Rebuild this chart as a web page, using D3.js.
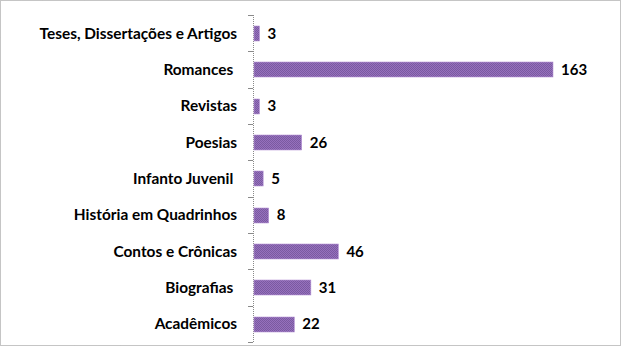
<!DOCTYPE html>
<html>
<head>
<meta charset="utf-8">
<script src="https://cdn.jsdelivr.net/npm/d3@7"></script>
<style>
  body { margin: 0; background: #fff; }
  text { font-family: Lato, "Open Sans", sans-serif; font-weight: bold; fill: #000; white-space: pre; }
</style>
</head>
<body>
<script>
const _svg_width = 621;
const _svg_height = 346;
const _axis_x = 253;
const _top = 15;
const _bottom = 342;

const categories = ['Teses, Dissertações e Artigos', 'Romances ', 'Revistas', 'Poesias', 'Infanto Juvenil ',
    'História em Quadrinhos', 'Contos e Crônicas', 'Biografias ', 'Acadêmicos'];
const values = [3, 163, 3, 26, 5, 8, 46, 31, 22];

const svg = d3.select('body')
    .append('svg')
    .attr('width', _svg_width)
    .attr('height', _svg_height);

// checker texture for the bars
const pat = svg.append('defs').append('pattern')
    .attr('id', 'purple')
    .attr('patternUnits', 'userSpaceOnUse')
    .attr('width', 2)
    .attr('height', 2);
pat.append('rect').attr('width', 2).attr('height', 2).attr('fill', '#9670bd');
pat.append('rect').attr('width', 1).attr('height', 1).attr('fill', '#7a5aa0');
pat.append('rect').attr('x', 1).attr('y', 1).attr('width', 1).attr('height', 1).attr('fill', '#7a5aa0');

// outer dotted frame
svg.append('rect')
    .attr('x', 0.5).attr('y', 0.5)
    .attr('width', _svg_width - 1).attr('height', _svg_height - 1)
    .attr('fill', 'none')
    .attr('stroke', '#8a8a8a')
    .attr('stroke-dasharray', '1,1');

const x = d3.scaleLinear().domain([0, 180]).range([_axis_x, _axis_x + 180 * 299 / 163]);
const y = d3.scaleBand().domain(categories).range([_top, _bottom]).paddingInner(0.6).paddingOuter(0.3);

// axis line + ticks at category boundaries
const edges = d3.range(categories.length + 1).map(i => _top + i * (_bottom - _top) / categories.length);
svg.append('line')
    .attr('x1', _axis_x + 0.5).attr('x2', _axis_x + 0.5)
    .attr('y1', _top).attr('y2', _bottom)
    .attr('stroke', '#8a8a8a')
    .attr('stroke-dasharray', '1,1');
svg.selectAll('.tick')
    .data(edges)
    .join('line')
    .attr('class', 'tick')
    .attr('x1', _axis_x - 5).attr('x2', _axis_x)
    .attr('y1', d => Math.round(d) + 0.5).attr('y2', d => Math.round(d) + 0.5)
    .attr('stroke', '#8a8a8a');

svg.selectAll('.bar')
    .data(values)
    .join('rect')
    .attr('class', 'bar')
    .attr('x', x(0) + 1)
    .attr('y', (d, i) => Math.round(y(categories[i])))
    .attr('width', d => x(d) - x(0))
    .attr('height', Math.round(y.bandwidth()))
    .attr('fill', 'url(#purple)')
    .attr('stroke', '#b896d8')
    .attr('stroke-width', 0.6);

svg.selectAll('.val')
    .data(values)
    .join('text')
    .attr('class', 'val')
    .attr('x', d => x(d) + 9)
    .attr('y', (d, i) => y(categories[i]) + y.bandwidth() / 2)
    .attr('dy', '0.36em')
    .style('font-size', '15px')
    .text(d => d);

svg.selectAll('.cat')
    .data(categories)
    .join('text')
    .attr('class', 'cat')
    .attr('x', 237)
    .attr('y', d => y(d) + y.bandwidth() / 2)
    .attr('dy', '0.36em')
    .attr('text-anchor', 'end')
    .style('font-size', '15.4px')
    .text(d => d);
</script>
</body>
</html>
